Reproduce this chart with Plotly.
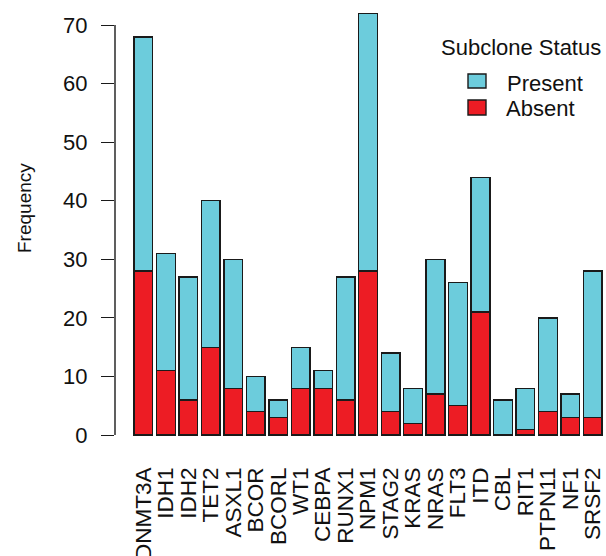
import plotly.graph_objects as go

genes = ["DNMT3A", "IDH1", "IDH2", "TET2", "ASXL1", "BCOR", "BCORL", "WT1", "CEBPA",
         "RUNX1", "NPM1", "STAG2", "KRAS", "NRAS", "FLT3", "ITD", "CBL", "RIT1",
         "PTPN11", "NF1", "SRSF2"]
absent = [28, 11, 6, 15, 8, 4, 3, 8, 8, 6, 28, 4, 2, 7, 5, 21, 0, 1, 4, 3, 3]
present = [40, 20, 21, 25, 22, 6, 3, 7, 3, 21, 44, 10, 6, 23, 21, 23, 6, 7, 16, 4, 25]
y_ticks = [0, 10, 20, 30, 40, 50, 60, 70]

W, H = 606, 556
ML, MR, MT, MB = 115, 1, 2, 118
PW, PH = W - ML - MR, H - MT - MB

def px(x):
    return (x - ML) / PW

def py(y):
    return (H - MB - y) / PH

CYAN = "rgb(108,204,220)"
RED = "rgb(237,28,36)"
EDGE = "#1a1a1a"
FONT = "Liberation Sans, Arial, Helvetica, sans-serif"

pos = list(range(len(genes)))
fig = go.Figure()
fig.add_trace(go.Bar(x=pos, y=absent, name="Absent", width=1/1.2,
                     marker=dict(color=RED, line=dict(color=EDGE, width=1.4))))
fig.add_trace(go.Bar(x=pos, y=present, name="Present", width=1/1.2,
                     marker=dict(color=CYAN, line=dict(color=EDGE, width=1.4))))

shapes = [
    dict(type="line", xref="paper", yref="y", x0=0, x1=0, y0=0, y1=70,
         line=dict(color=EDGE, width=1.4)),
    dict(type="rect", xref="paper", yref="paper", x0=px(468), x1=px(486), y0=py(74), y1=py(88),
         fillcolor=CYAN, line=dict(color=EDGE, width=1.4)),
    dict(type="rect", xref="paper", yref="paper", x0=px(468), x1=px(486), y0=py(100), y1=py(115),
         fillcolor=RED, line=dict(color=EDGE, width=1.4)),
]
annotations = [
    dict(text="Subclone Status", xref="paper", yref="paper", x=px(521), y=py(47),
         xanchor="center", yanchor="middle", showarrow=False, font=dict(size=22, color="#111", family=FONT)),
    dict(text="Present", xref="paper", yref="paper", x=px(505), y=py(83),
         xanchor="left", yanchor="middle", showarrow=False, font=dict(size=22, color="#111", family=FONT)),
    dict(text="Absent", xref="paper", yref="paper", x=px(504), y=py(108),
         xanchor="left", yanchor="middle", showarrow=False, font=dict(size=22, color="#111", family=FONT)),
    dict(text="Frequency", xref="paper", yref="paper", x=px(24), y=py(208), textangle=-90,
         xanchor="center", yanchor="middle", showarrow=False, font=dict(size=19, color="#111", family=FONT)),
]

fig.update_layout(
    width=W, height=H, barmode="stack", showlegend=False,
    margin=dict(l=ML, r=MR, t=MT, b=MB, pad=0, autoexpand=False),
    plot_bgcolor="white", paper_bgcolor="white",
    font=dict(family=FONT, color="#111"),
    shapes=shapes, annotations=annotations,
    xaxis=dict(range=[-1.264, -1.264 + PW / 22.47], tickmode="array", tickvals=pos, ticktext=genes,
               tickangle=-90, tickfont=dict(size=22.5, color="#111"), showgrid=False, zeroline=False,
               showline=False, ticks="", ticklabelstandoff=24, automargin=False),
    yaxis=dict(range=[-0.5, -0.5 + PH / 5.857], tickmode="array", tickvals=y_ticks,
               tickfont=dict(size=22, color="#111"), showgrid=False, zeroline=False, showline=False,
               ticks="outside", ticklen=13, tickwidth=1.4, tickcolor=EDGE, ticklabelstandoff=9,
               automargin=False),
)

fig.write_html("out.html", config={"displayModeBar": False},
               post_script="document.body.style.margin='0';document.body.style.overflow='hidden';")
